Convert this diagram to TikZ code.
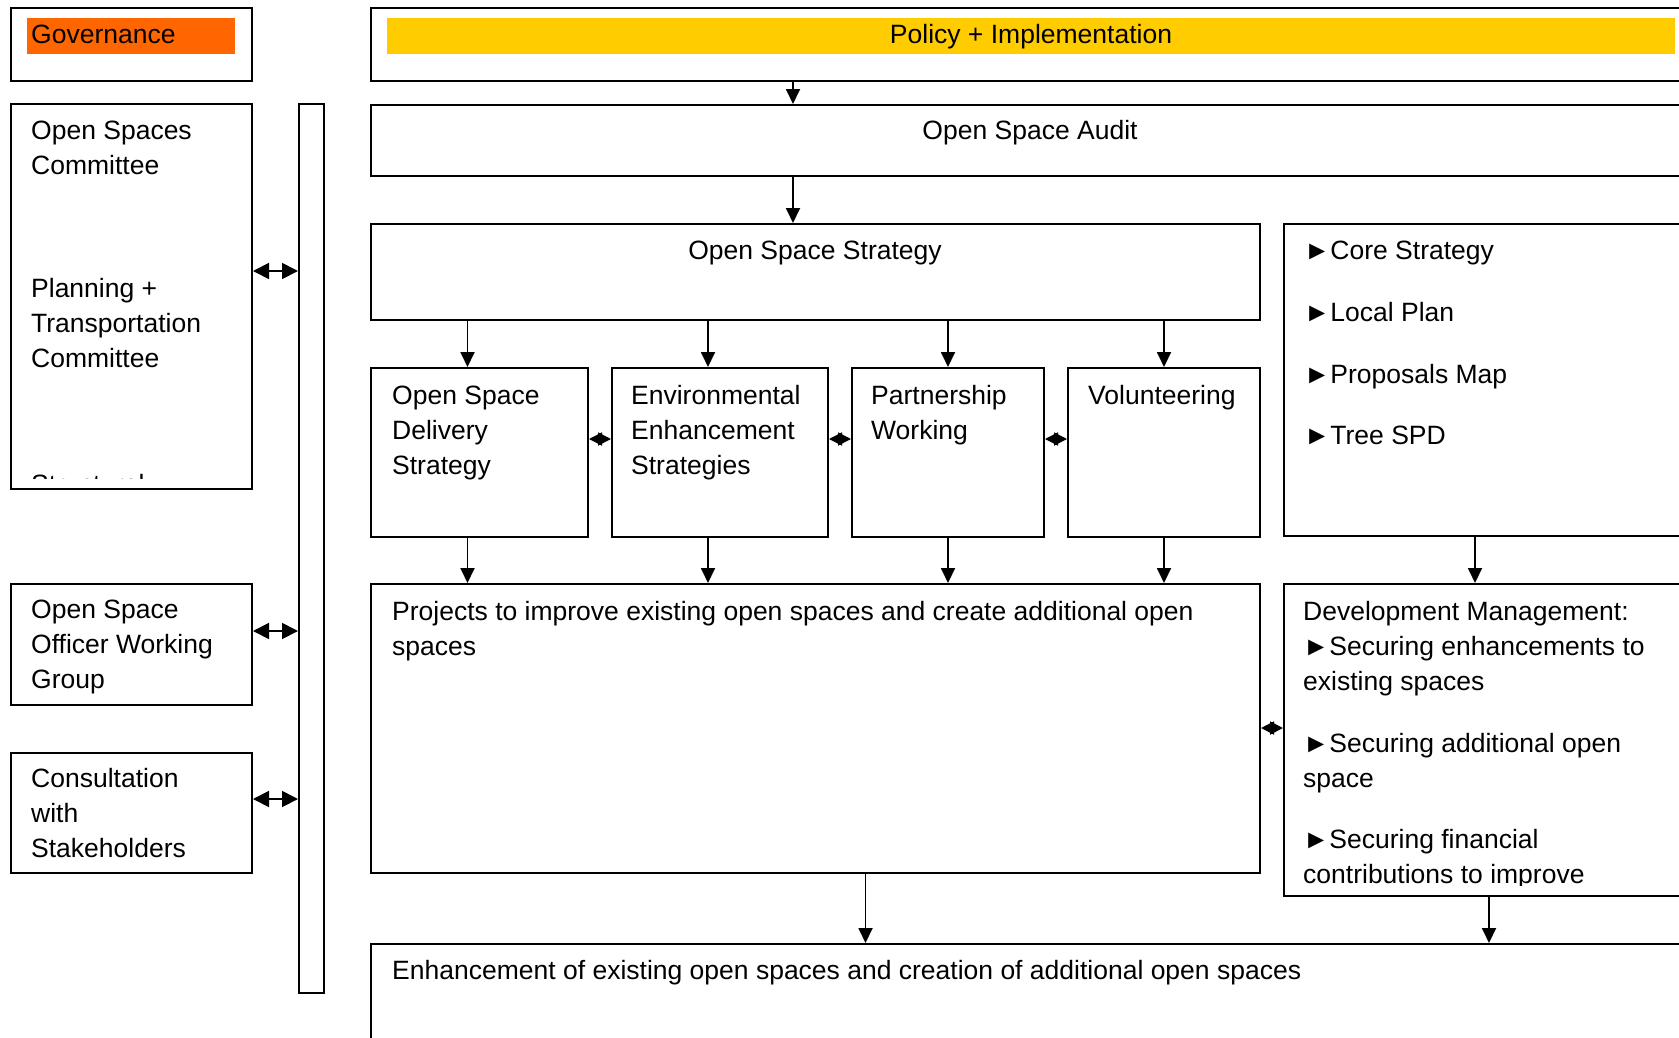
\documentclass[tikz,border=0pt]{standalone}
\usepackage{fontspec}
\setmainfont{Liberation Sans}
\usetikzlibrary{arrows.meta}
\definecolor{govorange}{HTML}{FF6600}
\definecolor{polyellow}{HTML}{FFCC00}
\newcommand{\diagfont}{\fontsize{26.5pt}{34.7pt}\selectfont}
\tikzset{
  box/.style={draw, line width=2pt, inner sep=0pt, anchor=north west},
  band/.style={inner sep=0pt, anchor=north west},
  txt/.style={anchor=base west, inner sep=0pt, align=left},
  ctxt/.style={anchor=base, inner sep=0pt},
  arr/.style={-{Triangle[length=15pt,width=14pt]}, line width=1.8pt},
  dbl/.style={{Triangle[length=16pt,width=16pt]}-{Triangle[length=16pt,width=16pt]}, line width=1.8pt},
  sdbl/.style={{Triangle[length=13pt,width=13pt]}-{Triangle[length=13pt,width=13pt]}, line width=1.8pt}
}
\begin{document}
\begin{tikzpicture}[x=1pt, y=-1pt, font=\diagfont]
    \useasboundingbox (0,0) rectangle (1679,1037);
    \clip (0,0) rectangle (1679,1037);
    % left column (text nodes sit on the baseline of their last line)
    \node[box, minimum width=241pt, minimum height=73pt] (gov) at (10,7) {};
    \node[band, fill=govorange, minimum width=208pt, minimum height=36pt] (govband) at (27,18) {};
    \node[txt] (govtxt) at (31,43) {Governance};
    \node[box, minimum width=241pt, minimum height=385pt] (committees) at (10,103) {};
    \node[box, minimum width=25pt, minimum height=889pt] (bar) at (298,103) {};
    \node[box, minimum width=241pt, minimum height=121pt] (officers) at (10,583) {};
    \node[box, minimum width=241pt, minimum height=120pt] (consult) at (10,752) {};
    \node[txt] (osc) at (31,174) {Open Spaces\\Committee};
    \node[txt] (ptc) at (31,367) {Planning +\\Transportation\\Committee};
    \begin{scope}
      \clip (10,103) rectangle (251,478);
      \node[txt] (stc) at (31,493) {Structural};
    \end{scope}
    \node[txt] (owg) at (31,688) {Open Space\\Officer Working\\Group};
    \node[txt] (cws) at (31,857) {Consultation\\with\\Stakeholders};
    % policy side
    \node[box, minimum width=1330pt, minimum height=73pt] (policy) at (370,7) {};
    \node[band, fill=polyellow, minimum width=1288pt, minimum height=36pt] (polband) at (387,18) {};
    \node[ctxt] (poltxt) at (1031,43) {Policy + Implementation};
    \node[box, minimum width=1330pt, minimum height=71pt] (audit) at (370,104) {};
    \node[ctxt] (audtxt) at (1030,139) {Open Space Audit};
    \node[box, minimum width=889pt, minimum height=96pt] (strategy) at (370,223) {};
    \node[ctxt] (strtxt) at (815,259) {Open Space Strategy};
    \node[box, minimum width=417pt, minimum height=312pt] (docs) at (1283,223) {};
    \node[txt] (d1) at (1304,259) {►Core Strategy};
    \node[txt] (d2) at (1304,321) {►Local Plan};
    \node[txt] (d3) at (1304,383) {►Proposals Map};
    \node[txt] (d4) at (1304,444) {►Tree SPD};
    \node[box, minimum width=217pt, minimum height=169pt] (delivery) at (370,367) {};
    \node[box, minimum width=216pt, minimum height=169pt] (environ) at (611,367) {};
    \node[box, minimum width=192pt, minimum height=169pt] (partner) at (851,367) {};
    \node[box, minimum width=192pt, minimum height=169pt] (volunteer) at (1067,367) {};
    \node[txt] (deltxt) at (392,474) {Open Space\\Delivery\\Strategy};
    \node[txt] (envtxt) at (631,474) {Environmental\\Enhancement\\Strategies};
    \node[txt] (partxt) at (871,439) {Partnership\\Working};
    \node[txt] (voltxt) at (1088,404) {Volunteering};
    \node[box, minimum width=889pt, minimum height=289pt] (projects) at (370,583) {};
    \node[txt] (protxt) at (392,655) {Projects to improve existing open spaces and create additional open\\spaces};
    \node[box, minimum width=417pt, minimum height=312pt] (devman) at (1283,583) {};
    \begin{scope}
      \clip (1283,583) rectangle (1700,885);
      \node[txt] (dm0) at (1303,620) {Development Management:};
      \node[txt] (dm1) at (1303,690) {►Securing enhancements to\\existing spaces};
      \node[txt] (dm2) at (1303,787) {►Securing additional open\\space};
      \node[txt] (dm3) at (1303,883) {►Securing financial\\contributions to improve};
    \end{scope}
    \node[box, minimum width=1330pt, minimum height=150pt] (enhance) at (370,943) {};
    \node[txt] (enhtxt) at (392,979) {Enhancement of existing open spaces and creation of additional open spaces};
    % connectors
    \draw[arr] ([xshift=423pt]policy.south west) -- ([xshift=423pt]audit.north west);
    \draw[arr] ([xshift=423pt]audit.south west) -- ([xshift=423pt]strategy.north west);
    \draw[arr] ([xshift=-12pt]delivery.north |- strategy.south) -- ([xshift=-12pt]delivery.north);
    \draw[arr] ([xshift=-12pt]environ.north |- strategy.south) -- ([xshift=-12pt]environ.north);
    \draw[arr] (partner.north |- strategy.south) -- (partner.north);
    \draw[arr] (volunteer.north |- strategy.south) -- (volunteer.north);
    \draw[arr] ([xshift=-12pt]delivery.south) -- ([xshift=-12pt]delivery.south |- projects.north);
    \draw[arr] ([xshift=-12pt]environ.south) -- ([xshift=-12pt]environ.south |- projects.north);
    \draw[arr] (partner.south) -- (partner.south |- projects.north);
    \draw[arr] (volunteer.south) -- (volunteer.south |- projects.north);
    \draw[arr] ([xshift=192pt]docs.south west) -- ([xshift=192pt]devman.north west);
    \draw[arr] ([xshift=50pt]projects.south) -- ([xshift=50pt]projects.south |- enhance.north);
    \draw[arr] ([xshift=206pt]devman.south west) -- ([xshift=206pt]devman.south west |- enhance.north);
    \coordinate (c1) at ([yshift=-168pt]committees.north east);
    \coordinate (c2) at ([yshift=-48pt]officers.north east);
    \coordinate (c3) at ([yshift=-47pt]consult.north east);
    \draw[dbl] (c1) -- (c1 -| bar.west);
    \draw[dbl] (c2) -- (c2 -| bar.west);
    \draw[dbl] (c3) -- (c3 -| bar.west);
    \coordinate (s1) at ([yshift=-72pt]delivery.north east);
    \coordinate (s2) at ([yshift=-72pt]environ.north east);
    \coordinate (s3) at ([yshift=-72pt]partner.north east);
    \coordinate (s4) at ([yshift=-145pt]projects.north east);
    \draw[sdbl] (s1) -- (s1 -| environ.west);
    \draw[sdbl] (s2) -- (s2 -| partner.west);
    \draw[sdbl] (s3) -- (s3 -| volunteer.west);
    \draw[sdbl] (s4) -- (s4 -| devman.west);
\end{tikzpicture}
\end{document}
